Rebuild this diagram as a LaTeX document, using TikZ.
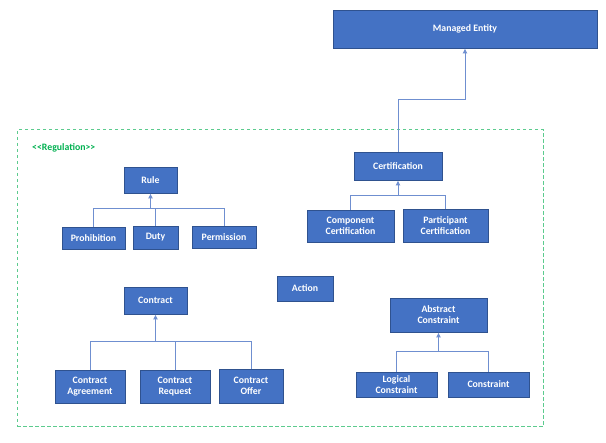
\documentclass[tikz,border=0pt]{standalone}
\usepackage{fontspec}
\setmainfont{Carlito}
\usetikzlibrary{arrows.meta}
\definecolor{boxfill}{HTML}{4472C4}
\definecolor{boxline}{HTML}{2F528F}
\definecolor{connc}{HTML}{6F8FD0}
\definecolor{framec}{HTML}{5CCB8E}
\definecolor{regtext}{HTML}{00B050}
\tikzset{
  box/.style={draw=boxline, fill=boxfill, line width=0.8pt, text=white, font=\fontsize{9.8}{11}\selectfont\bfseries, align=center, inner sep=1pt},
  conn/.style={draw=connc, line width=1pt},
  arr/.style={conn, -{Latex[length=5pt,width=5pt]}},
  frame/.style={draw=framec, line width=1pt, dash pattern=on 3.5pt off 2.5pt, inner sep=0pt}
}
\begin{document}
\begin{tikzpicture}[x=1pt,y=-1pt]
\useasboundingbox (0,0) rectangle (606,443);
% frame
\node[frame, minimum width=526pt, minimum height=297pt] (reg) at (280,278.5) {};
\node[anchor=west, text=regtext, font=\fontsize{9.8}{11}\selectfont\bfseries, inner sep=0pt] (reglabel) at (32,148) {<\kern0pt<Regulation>\kern0pt>};
% boxes
\node[box, minimum width=264pt, minimum height=38pt] (me) at (465,29) {Managed Entity};
\node[box, minimum width=88pt, minimum height=28pt] (cert) at (398,166) {Certification};
\node[box, minimum width=87pt, minimum height=32pt] (compc) at (350.5,226) {Component\\Certification};
\node[box, minimum width=85pt, minimum height=33pt] (partc) at (445.5,225.5) {Participant\\Certification};
\node[box, minimum width=53pt, minimum height=26pt] (rule) at (150.5,180) {Rule};
\node[box, minimum width=63pt, minimum height=22pt] (proh) at (93.5,238) {Prohibition};
\node[box, minimum width=45pt, minimum height=23pt] (duty) at (155.5,237.5) {Duty};
\node[box, minimum width=64pt, minimum height=22pt] (perm) at (224,237) {Permission};
\node[box, minimum width=56pt, minimum height=25pt] (action) at (305,288.5) {Action};
\node[box, minimum width=63pt, minimum height=27pt] (contract) at (155.5,300.5) {Contract};
\node[box, minimum width=70pt, minimum height=33pt] (cagr) at (90,386.5) {Contract\\Agreement};
\node[box, minimum width=70pt, minimum height=33pt] (creq) at (175,386.5) {Contract\\Request};
\node[box, minimum width=64pt, minimum height=34pt] (coff) at (251,386) {Contract\\Offer};
\node[box, minimum width=97pt, minimum height=34pt] (absc) at (438.5,315) {Abstract\\Constraint};
\node[box, minimum width=81pt, minimum height=25pt] (logc) at (396.5,384.5) {Logical\\Constraint};
\node[box, minimum width=81pt, minimum height=25pt] (cons) at (488.5,384.5) {Constraint};
% bus coordinates
\coordinate (rulebus) at (150.5,209);
\coordinate (contbus) at (155.5,342);
\coordinate (certbus) at (398,196);
\coordinate (absbus) at (438.5,352);
\coordinate (mebend) at (465,100);
% connectors
\draw[conn] (proh.north) |- (rulebus);
\draw[conn] (duty.north) |- (rulebus);
\draw[conn] (perm.north) |- (rulebus);
\draw[arr] (rulebus) -- (rule.south);
\draw[conn] (cagr.north) |- (contbus);
\draw[conn] (creq.north) |- (contbus);
\draw[conn] (coff.north) |- (contbus);
\draw[arr] (contbus) -- (contract.south);
\draw[conn] (compc.north) |- (certbus);
\draw[conn] (partc.north) |- (certbus);
\draw[arr] (certbus) -- (cert.south);
\draw[conn] (logc.north) |- (absbus);
\draw[conn] (cons.north) |- (absbus);
\draw[arr] (absbus) -- (absc.south);
\draw[arr] (cert.north) |- (mebend) -- (me.south);
\end{tikzpicture}
\end{document}
